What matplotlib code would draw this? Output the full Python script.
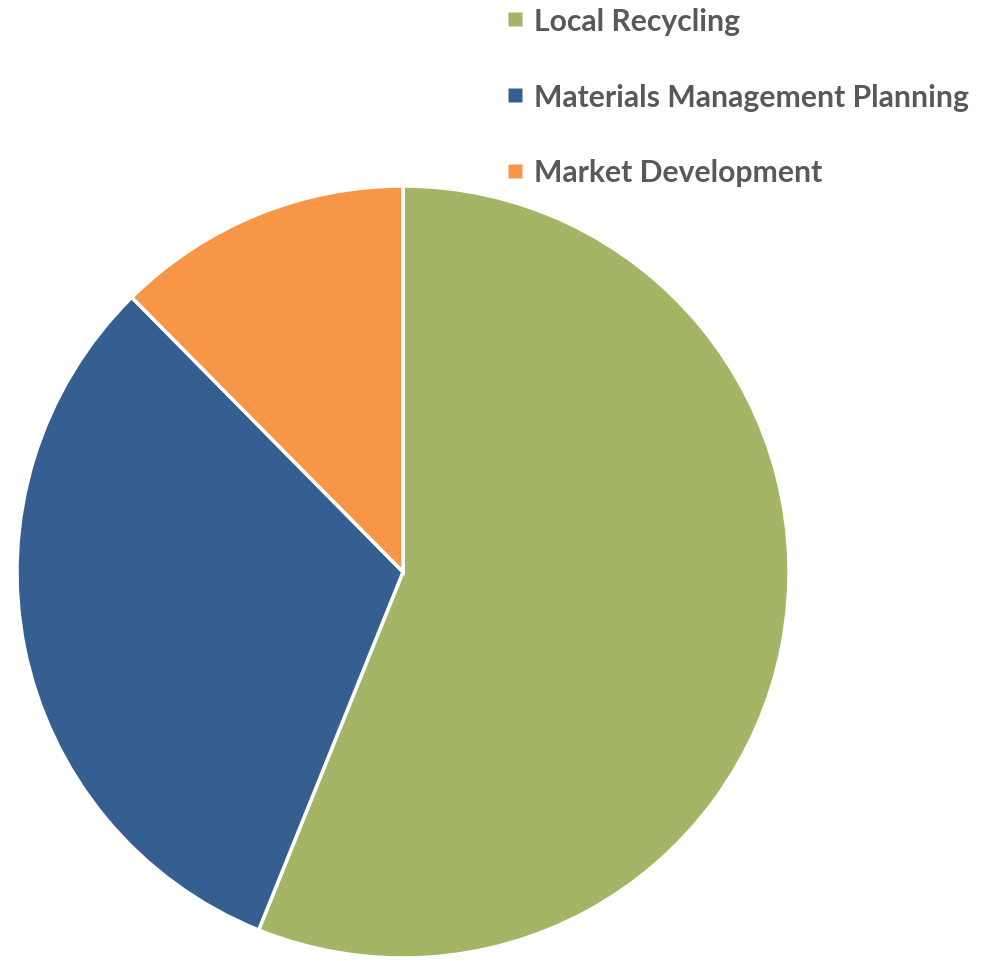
import matplotlib
matplotlib.use('Agg')
import matplotlib.pyplot as plt
from matplotlib.lines import Line2D

# Data
labels = ['Local Recycling', 'Materials Management Planning', 'Market Development']
shares = [56.1, 31.5, 12.4]
colors = ['#A5B566', '#365F91', '#F79646']

W, H = 999, 962
fig = plt.figure(figsize=(W / 100, H / 100), dpi=100)

# Pie axes placed by pixel centre / radius
cx, cy, r = 403, 573, 386
ax = fig.add_axes([(cx - r) / W, (H - cy - r) / H, 2 * r / W, 2 * r / H])
ax.pie(shares, colors=colors, startangle=90, counterclock=False, radius=1,
       wedgeprops=dict(edgecolor='white', linewidth=2.5))
ax.set_xlim(-1, 1)
ax.set_ylim(-1, 1)
ax.set_aspect('equal')
ax.axis('off')

# Legend, top right
handles = [Line2D([], [], linestyle='none', marker='s', markersize=10.5,
                  markerfacecolor=c, markeredgecolor='none') for c in colors]
leg = fig.legend(handles, labels, loc='upper left', bbox_to_anchor=(507 / W, 1 - 8 / H),
                 frameon=False, handlelength=0.55, handletextpad=0.35,
                 labelspacing=1.58, borderpad=0, borderaxespad=0,
                 prop=dict(family='Lato', weight='bold', size=21.7))
for t in leg.get_texts():
    t.set_color('#595959')

fig.savefig('out.png', dpi=100)
